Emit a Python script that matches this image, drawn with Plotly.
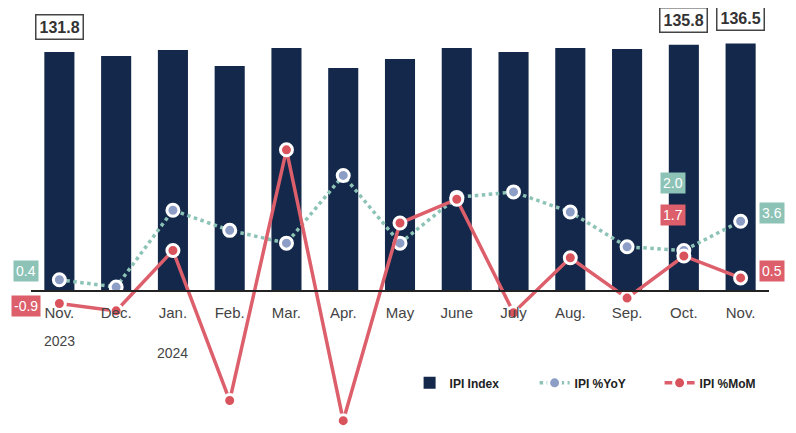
import plotly.graph_objects as go

months = ["Nov.", "Dec.", "Jan.", "Feb.", "Mar.", "Apr.", "May", "June", "July", "Aug.", "Sep.", "Oct.", "Nov."]
years = {0: "2023", 2: "2024"}
ipi_index = [131.8, 129.5, 132.9, 124.0, 134.0, 122.9, 127.9, 134.0, 131.8, 134.0, 133.4, 135.8, 136.5]
ipi_yoy = [0.4, 0.0, 4.2, 3.1, 2.4, 6.1, 2.4, 4.9, 5.2, 4.1, 2.2, 2.0, 3.6]
ipi_mom = [-0.9, -1.3, 2.0, -6.2, 7.5, -7.3, 3.5, 4.8, -1.4, 1.6, -0.6, 1.7, 0.5]

x = list(range(len(months)))
FONT = "Liberation Sans Narrow, Arial Narrow, Liberation Sans, sans-serif"
NAVY = "#13284a"
TEAL = "#8cc3b6"
RED = "#dc5f6b"

fig = go.Figure()
fig.add_trace(go.Bar(x=x, y=ipi_index, name="IPI Index", marker=dict(color=NAVY, line=dict(width=0)),
                     width=0.53, yaxis="y"))
fig.add_trace(go.Scatter(x=x, y=ipi_yoy, name="IPI %YoY", mode="lines+markers", yaxis="y2",
                         line=dict(color=TEAL, width=3.5, dash="dot"),
                         marker=dict(size=12, color="#8d9ec6", line=dict(color="white", width=3)),
                         cliponaxis=False))
fig.add_trace(go.Scatter(x=x, y=ipi_mom, name="IPI %MoM", mode="lines+markers", yaxis="y2",
                         line=dict(color=RED, width=3.5),
                         marker=dict(size=12, color="#d9535c", line=dict(color="white", width=3)),
                         cliponaxis=False))

ann = []
# index labels
for i in [0, 11, 12]:
    ann.append(dict(x=i, y=ipi_index[i], xref="x", yref="y", text=f"<b>{ipi_index[i]:.1f}</b>",
                    showarrow=False, yshift=25, font=dict(family=FONT, size=16, color="#333333"),
                    bgcolor="white", bordercolor="#444444", borderwidth=1.5, borderpad=3))
# yoy / mom labels
def lab(i, series, color, xs, ys):
    return dict(x=i, y=series[i], xref="x", yref="y2", text=f"{series[i]:.1f}", showarrow=False,
                xshift=xs, yshift=ys, font=dict(family=FONT, size=14, color="white"),
                bgcolor=color, borderpad=2)
ann.append(lab(0, ipi_yoy, TEAL, -33, 9))
ann.append(lab(0, ipi_mom, RED, -33, -2))
ann.append(lab(11, ipi_yoy, TEAL, -11, 67))
ann.append(lab(11, ipi_mom, RED, -11, 41))
ann.append(lab(12, ipi_yoy, TEAL, 31, 8))
ann.append(lab(12, ipi_mom, RED, 31, 7))
for i, yr in years.items():
    ann.append(dict(x=i, y=0, xref="x", yref="y", text=yr, showarrow=False,
                    yshift=-50 if i == 0 else -62, font=dict(family=FONT, size=14, color="#444444")))

fig.update_layout(
    width=796, height=433,
    margin=dict(l=23, r=35, t=2, b=13, autoexpand=False),
    paper_bgcolor="white", plot_bgcolor="white",
    showlegend=True,
    legend=dict(orientation="h", x=0.513, y=0.108, xanchor="left", yanchor="middle",
                font=dict(family=FONT, size=12, color="#222222", weight="bold"),
                bgcolor="rgba(0,0,0,0)", itemwidth=30, entrywidth=80, entrywidthmode="pixels"),
    xaxis=dict(tickmode="array", tickvals=x, ticktext=months, range=[-0.5, 12.5],
               anchor="free", position=(428 - 291) / 418,
               showline=True, linecolor="#222222", linewidth=2, ticks="", ticklabelstandoff=8,
               showgrid=False, zeroline=False,
               tickfont=dict(family=FONT, size=15, color="#444444")),
    yaxis=dict(range=[-75.5, 154.9], visible=False, showgrid=False, zeroline=False),
    yaxis2=dict(range=[-7.70, 15.14], overlaying="y", visible=False, showgrid=False, zeroline=False),
    annotations=ann,
    bargap=0.4,
)
fig.write_html("out.html")
